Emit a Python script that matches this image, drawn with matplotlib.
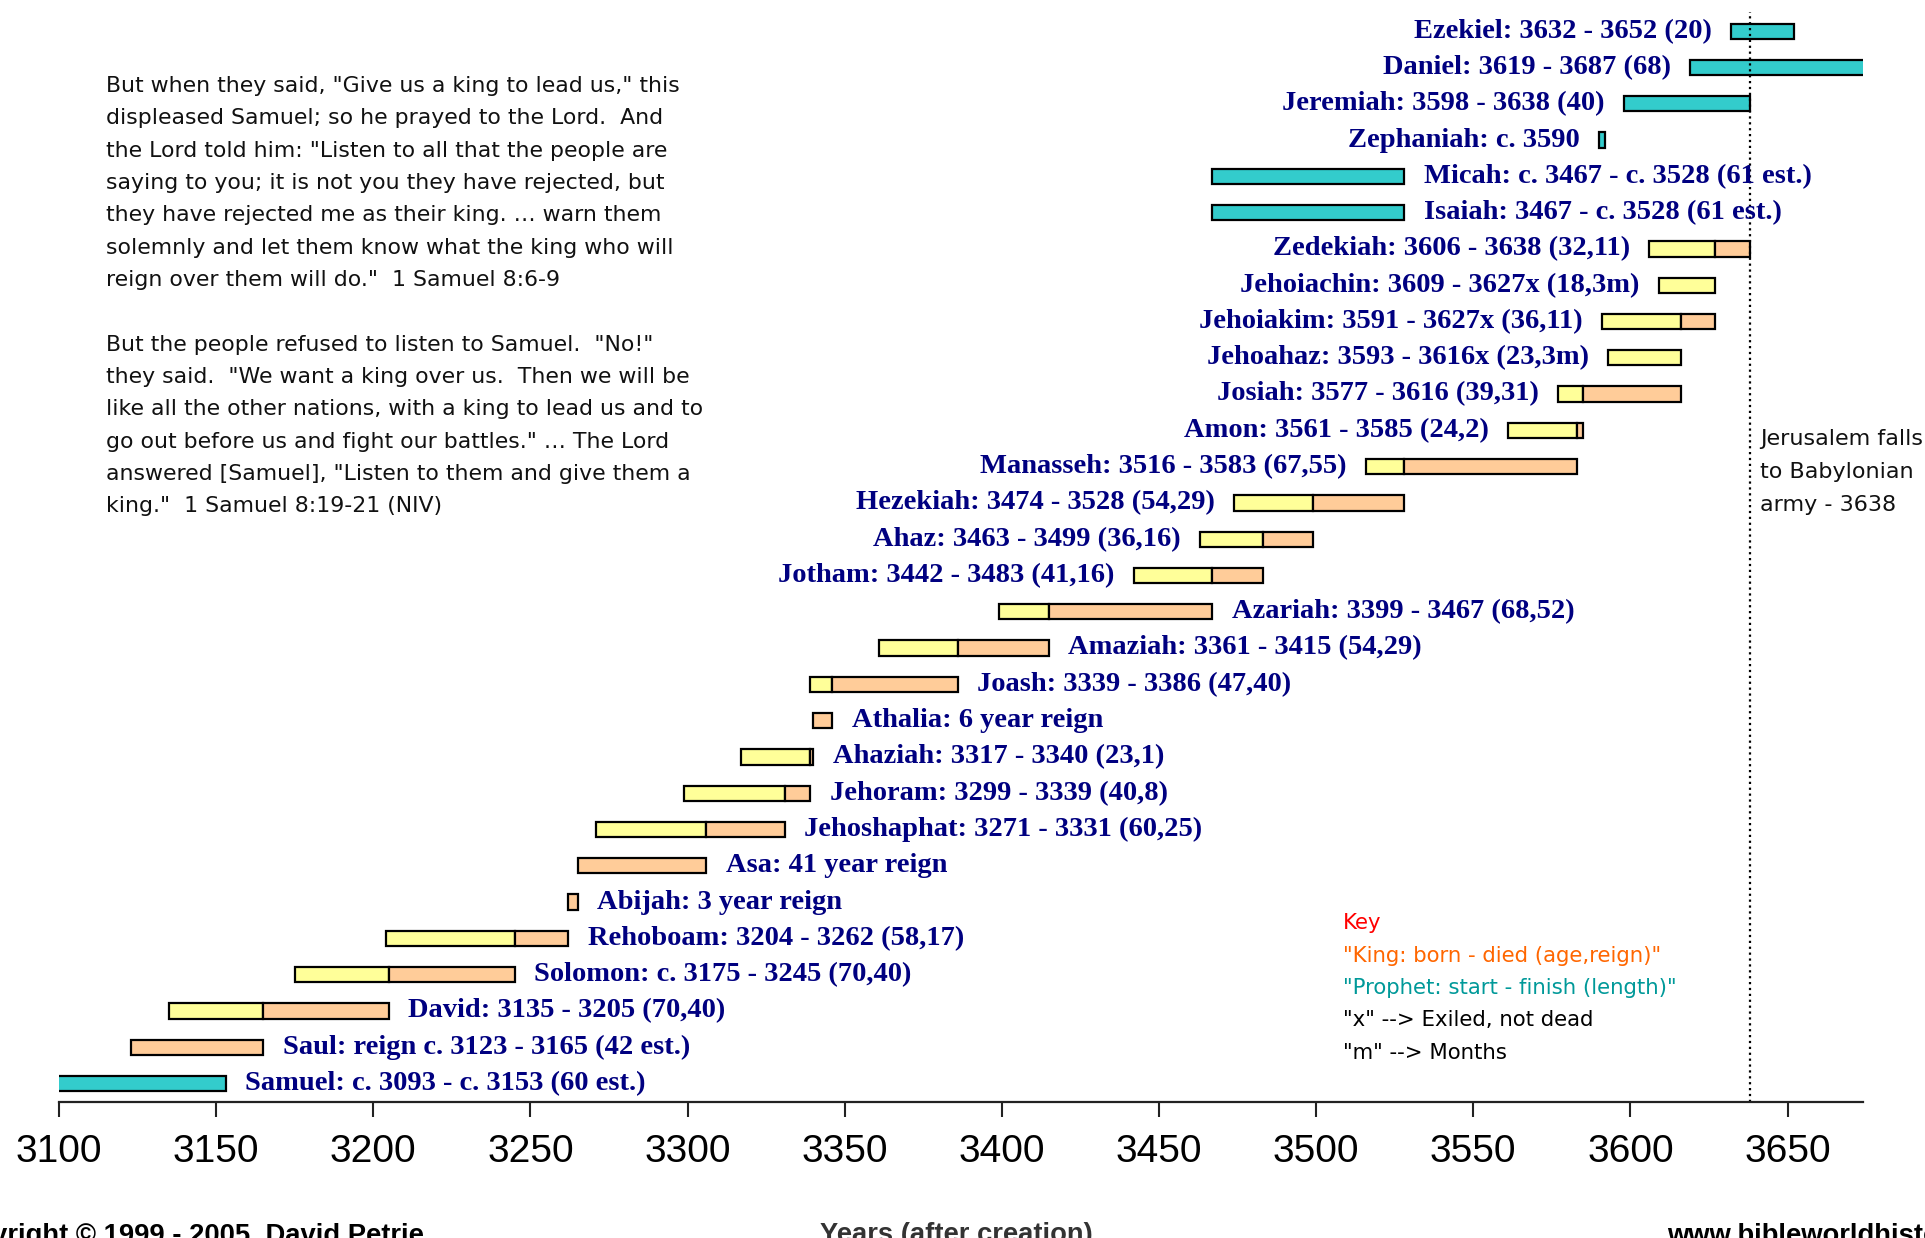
import numpy as np
import matplotlib.pyplot as plt

# rows from bottom (Samuel) to top (Ezekiel)
labels = [
    'Samuel: c. 3093 - c. 3153 (60 est.)',
    'Saul: reign c. 3123 - 3165 (42 est.)',
    'David: 3135 - 3205 (70,40)',
    'Solomon: c. 3175 - 3245 (70,40)',
    'Rehoboam: 3204 - 3262 (58,17)',
    'Abijah: 3 year reign',
    'Asa: 41 year reign',
    'Jehoshaphat: 3271 - 3331 (60,25)',
    'Jehoram: 3299 - 3339 (40,8)',
    'Ahaziah: 3317 - 3340 (23,1)',
    'Athalia: 6 year reign',
    'Joash: 3339 - 3386 (47,40)',
    'Amaziah: 3361 - 3415 (54,29)',
    'Azariah: 3399 - 3467 (68,52)',
    'Jotham: 3442 - 3483 (41,16)',
    'Ahaz: 3463 - 3499 (36,16)',
    'Hezekiah: 3474 - 3528 (54,29)',
    'Manasseh: 3516 - 3583 (67,55)',
    'Amon: 3561 - 3585 (24,2)',
    'Josiah: 3577 - 3616 (39,31)',
    'Jehoahaz: 3593 - 3616x (23,3m)',
    'Jehoiakim: 3591 - 3627x (36,11)',
    'Jehoiachin: 3609 - 3627x (18,3m)',
    'Zedekiah: 3606 - 3638 (32,11)',
    'Isaiah: 3467 - c. 3528 (61 est.)',
    'Micah: c. 3467 - c. 3528 (61 est.)',
    'Zephaniah: c. 3590',
    'Jeremiah: 3598 - 3638 (40)',
    'Daniel: 3619 - 3687 (68)',
    'Ezekiel: 3632 - 3652 (20)',
]
kind = ['prophet', 'king', 'king', 'king', 'king', 'king', 'king', 'king', 'king', 'king',
        'king', 'king', 'king', 'king', 'king', 'king', 'king', 'king', 'king', 'king',
        'king', 'king', 'king', 'king', 'prophet', 'prophet', 'prophet', 'prophet', 'prophet', 'prophet']
# born (king) / start (prophet)
start = [3093, 3123, 3135, 3175, 3204, 3262, 3265, 3271, 3299, 3317,
         3340, 3339, 3361, 3399, 3442, 3463, 3474, 3516, 3561, 3577,
         3593, 3591, 3609, 3606, 3467, 3467, 3590, 3598, 3619, 3632]
# start of reign (kings only)
reign = [3093, 3123, 3165, 3205, 3245, 3262, 3265, 3306, 3331, 3339,
         3340, 3346, 3386, 3415, 3467, 3483, 3499, 3528, 3583, 3585,
         3616, 3616, 3627, 3627, 3467, 3467, 3590, 3598, 3619, 3632]
end = [3153, 3165, 3205, 3245, 3262, 3265, 3306, 3331, 3339, 3340,
       3346, 3386, 3415, 3467, 3483, 3499, 3528, 3583, 3585, 3616,
       3616, 3627, 3627, 3638, 3528, 3528, 3592, 3638, 3687, 3652]
side = ['R'] * 14 + ['L'] * 10 + ['R', 'R', 'L', 'L', 'L', 'L']

fall_year = 3638
x_ticks = [3100, 3150, 3200, 3250, 3300, 3350, 3400, 3450, 3500, 3550, 3600, 3650]

quote = ("But when they said, \"Give us a king to lead us,\" this\n"
         "displeased Samuel; so he prayed to the Lord.  And\n"
         "the Lord told him: \"Listen to all that the people are\n"
         "saying to you; it is not you they have rejected, but\n"
         "they have rejected me as their king. \u2026 warn them\n"
         "solemnly and let them know what the king who will\n"
         "reign over them will do.\"  1 Samuel 8:6-9\n"
         "\n"
         "But the people refused to listen to Samuel.  \"No!\"\n"
         "they said.  \"We want a king over us.  Then we will be\n"
         "like all the other nations, with a king to lead us and to\n"
         "go out before us and fight our battles.\" \u2026 The Lord\n"
         "answered [Samuel], \"Listen to them and give them a\n"
         "king.\"  1 Samuel 8:19-21 (NIV)")
key_lines = ['Key', '"King: born - died (age,reign)"', '"Prophet: start - finish (length)"',
             '"x" --> Exiled, not dead', '"m" --> Months']
key_colors = ['#ff0000', '#ff6600', '#009999', '#000000', '#000000']

TEAL, YELLOW, ORANGE = '#33cccc', '#ffff99', '#ffcc99'
W, H = 1925, 1238

fig = plt.figure(figsize=(W / 100, H / 100), dpi=100)
ax = fig.add_axes([59 / W, 136 / H, (1863 - 59) / W, (1226 - 136) / H])

rows = np.arange(len(labels))
bh = 0.42
for i in rows:
    if kind[i] == 'prophet':
        ax.barh(i, end[i] - start[i], left=start[i], height=bh, color=TEAL,
                edgecolor='black', linewidth=1.6)
    else:
        if reign[i] > start[i]:
            ax.barh(i, reign[i] - start[i], left=start[i], height=bh, color=YELLOW,
                    edgecolor='black', linewidth=1.6)
        if end[i] > reign[i]:
            ax.barh(i, end[i] - reign[i], left=reign[i], height=bh, color=ORANGE,
                    edgecolor='black', linewidth=1.6)

x_lo, x_hi = 3100, 3674
for i in rows:
    if side[i] == 'R':
        ax.annotate(labels[i], xy=(min(end[i], x_hi), i), xytext=(14, 0),
                    textcoords='offset points', ha='left', va='center',
                    fontsize=20.5, fontweight='bold', family='Liberation Serif', color='#000080')
    else:
        ax.annotate(labels[i], xy=(max(start[i], x_lo), i), xytext=(-14, 0),
                    textcoords='offset points', ha='right', va='center',
                    fontsize=20.5, fontweight='bold', family='Liberation Serif', color='#000080')

ax.axvline(fall_year, color='black', linestyle=':', linewidth=1.6)

ax.set_xlim(x_lo, x_hi)
ax.set_ylim(-0.51, 29.53)
ax.set_xticks(x_ticks)
ax.set_xticklabels([str(t) for t in x_ticks], fontsize=28, family='Liberation Sans')
ax.set_yticks([])
for s in ['left', 'top', 'right']:
    ax.spines[s].set_visible(False)
ax.spines['bottom'].set_linewidth(1.6)
ax.spines['bottom'].set_color('#222222')
ax.tick_params(axis='x', length=11, width=1.5, pad=12, color='#222222')
ax.patch.set_alpha(0)

fig.text(106 / W, 1 - 76 / H, quote, ha='left', va='top', fontsize=15.8,
         family='DejaVu Sans', linespacing=1.77, color='#111111')
fig.text(1760 / W, 1 - 429 / H, 'Jerusalem falls\nto Babylonian\narmy - 3638', ha='left', va='top',
         fontsize=16, family='DejaVu Sans', linespacing=1.8, color='#111111')
for k, (txt, c) in enumerate(zip(key_lines, key_colors)):
    fig.text(1343 / W, 1 - (923 + 32.5 * k) / H, txt, ha='left', va='center', fontsize=15.3,
             family='DejaVu Sans', color=c)

fig.text(956 / W, 1 - 1242 / H, 'Years (after creation)', ha='center', va='baseline',
         fontsize=19.7, fontweight='bold', family='Liberation Sans', color='#333333')
fig.text(424 / W, 1 - 1243 / H, 'Copyright \u00a9 1999 - 2005, David Petrie', ha='right', va='baseline',
         fontsize=19.7, fontweight='bold', family='Liberation Sans', color='black')
fig.text(1667 / W, 1 - 1243 / H, 'www.bibleworldhistory.com', ha='left', va='baseline',
         fontsize=19.7, fontweight='bold', family='Liberation Sans', color='black')

fig.savefig('out.png', dpi=100, facecolor='white')
